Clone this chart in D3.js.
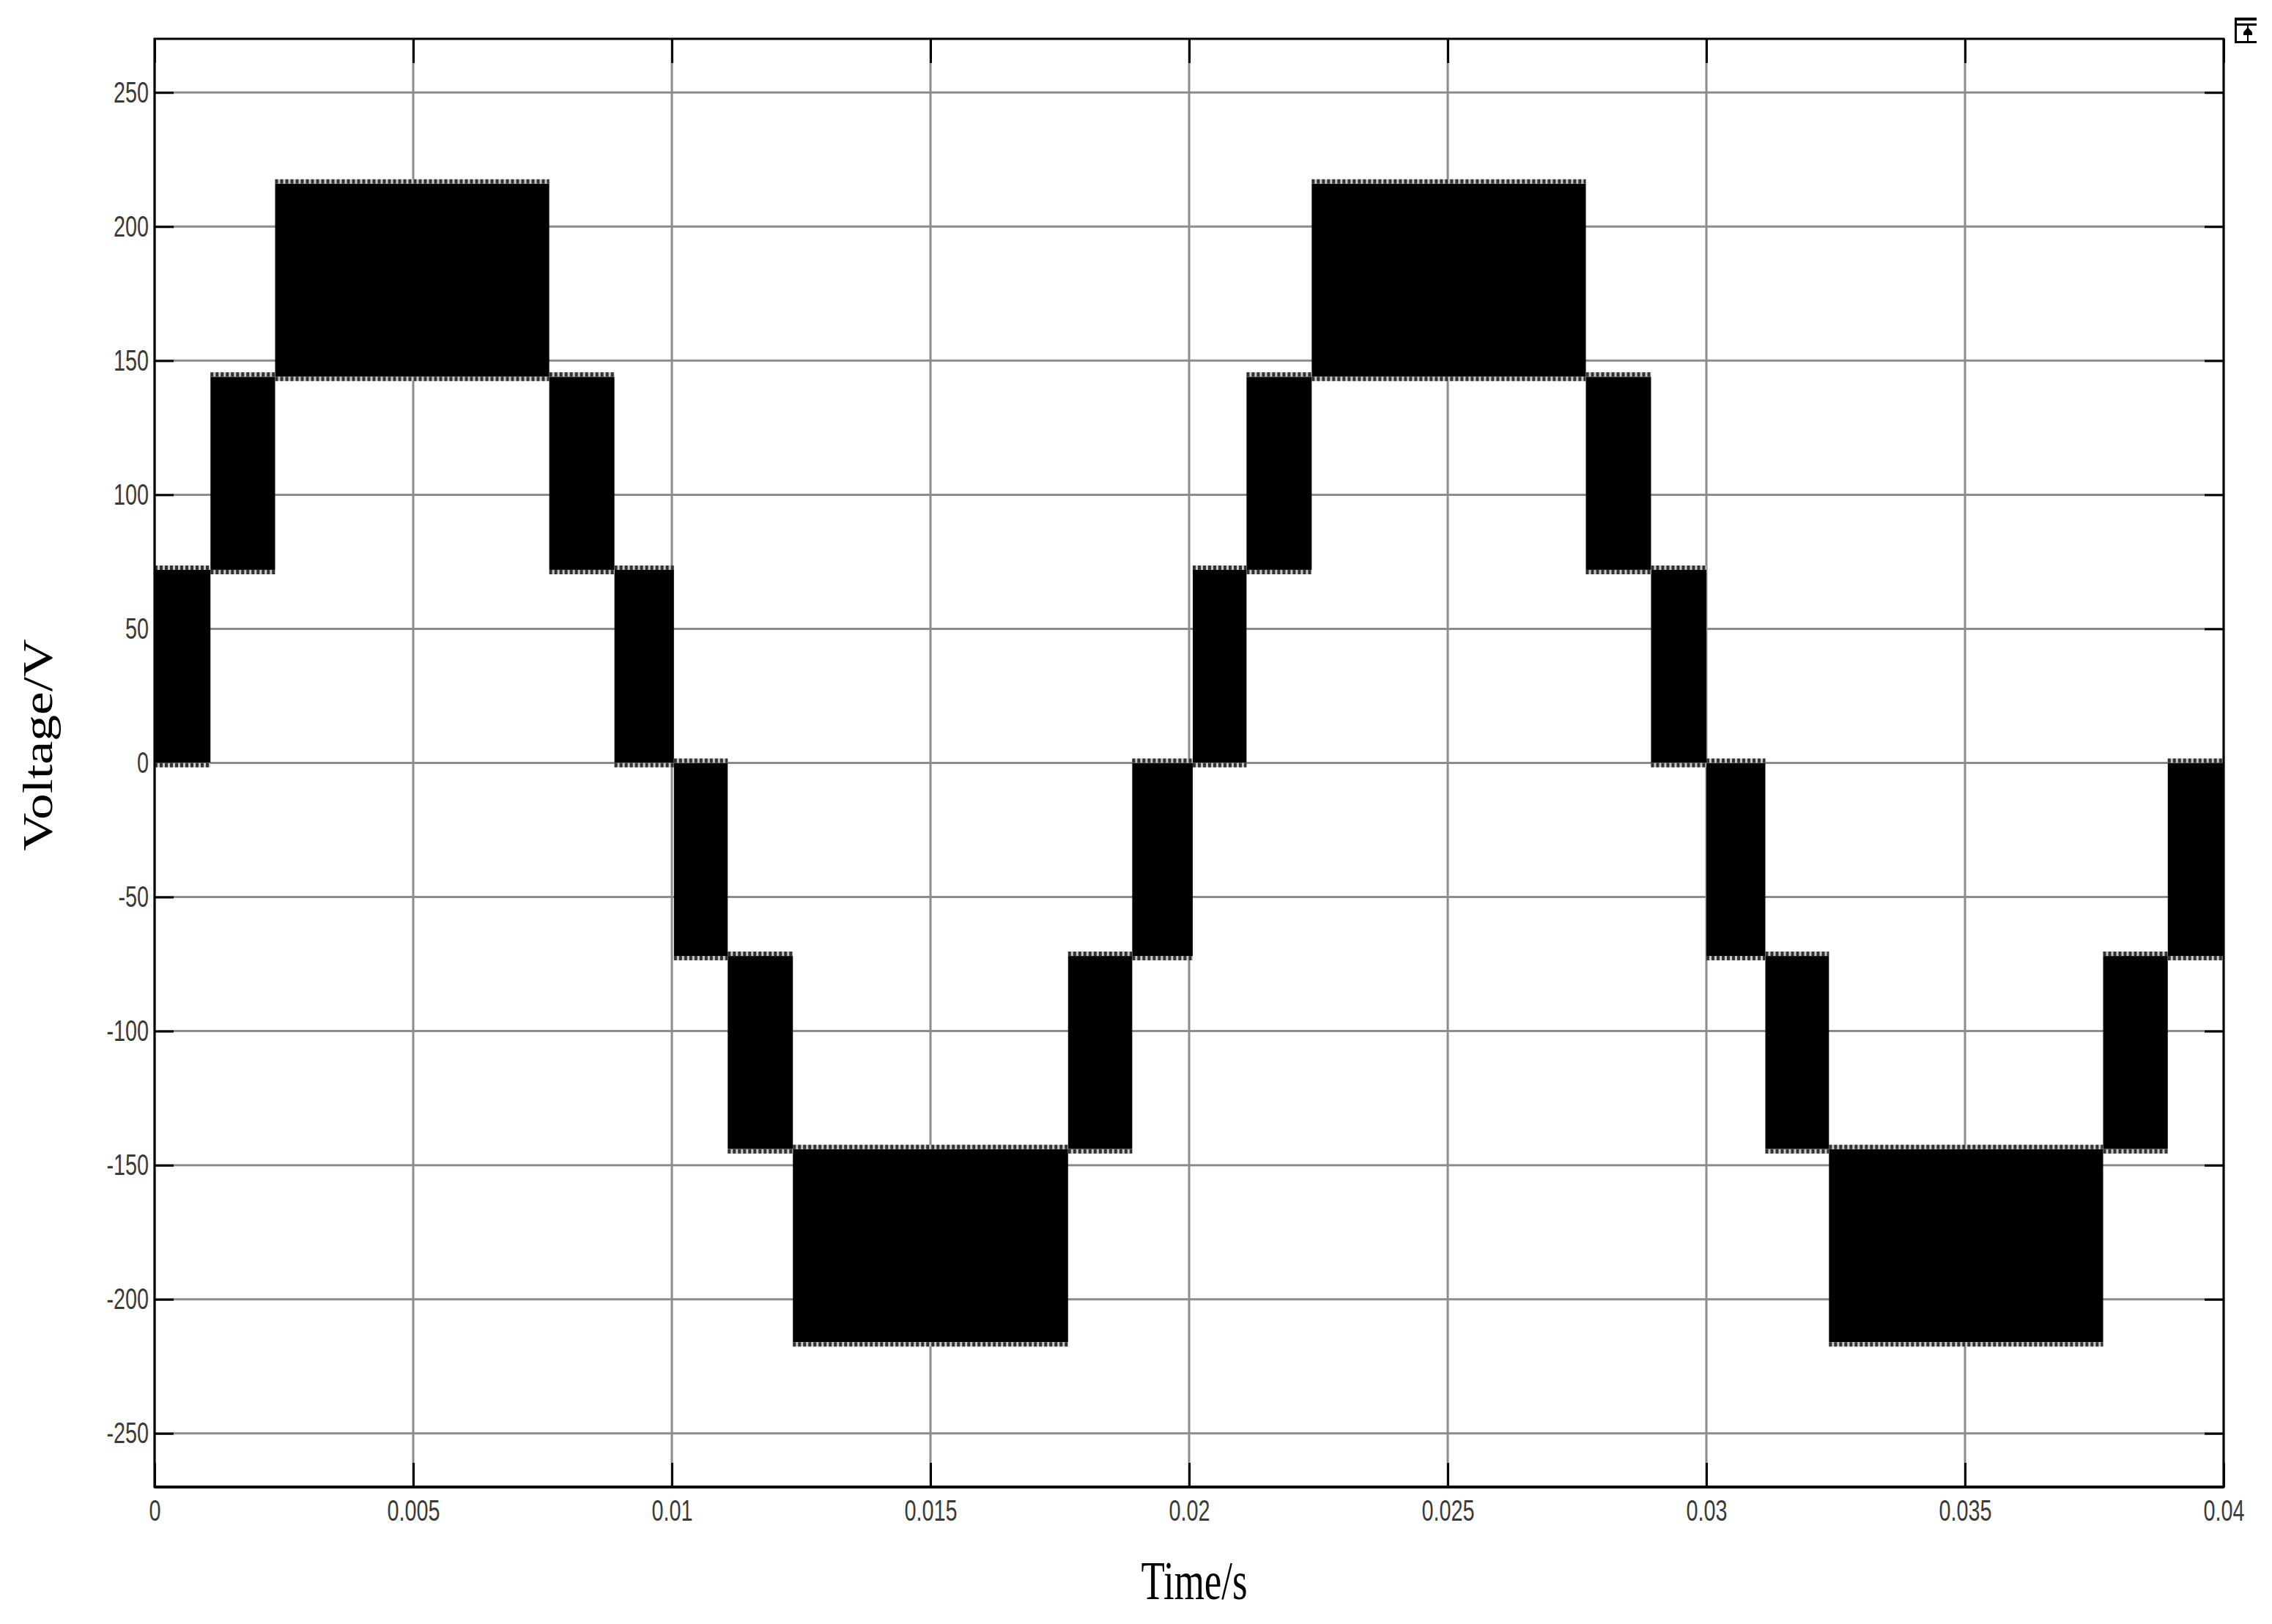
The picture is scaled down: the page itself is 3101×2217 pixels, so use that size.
<!DOCTYPE html>
<html>
<head>
<meta charset="utf-8">
<script src="https://cdn.jsdelivr.net/npm/d3@7"></script>
<style>
  html, body { margin: 0; padding: 0; background: #fff; }
  svg { display: block; }
  .tick text { font-family: "Liberation Sans", Arial, sans-serif; font-size: 40px; fill: #3a3a3a; }
  .label { font-family: "Liberation Serif", "Times New Roman", serif; fill: #000; }
</style>
</head>
<body>
<svg></svg>
<script>
// values
var xTicks = [0, 0.005, 0.01, 0.015, 0.02, 0.025, 0.03, 0.035, 0.04];
var yTicks = [-250, -200, -150, -100, -50, 0, 50, 100, 150, 200, 250];
var bandStart = [0, 0.00108, 0.00233, 0.00763, 0.00889, 0.01004, 0.01108, 0.01234, 0.01766, 0.0189,
                 0.02007, 0.02111, 0.02237, 0.02767, 0.02893, 0.03, 0.03114, 0.03237, 0.03767, 0.03892];
var bandEnd   = [0.00108, 0.00233, 0.00763, 0.00889, 0.01004, 0.01108, 0.01234, 0.01766, 0.0189, 0.02007,
                 0.02111, 0.02237, 0.02767, 0.02893, 0.03, 0.03114, 0.03237, 0.03767, 0.03892, 0.04];
var bandLow   = [0, 72, 144, 72, 0, -72, -144, -216, -144, -72,
                 0, 72, 144, 72, 0, -72, -144, -216, -144, -72];
var bandHigh  = [72, 144, 216, 144, 72, 0, -72, -144, -72, 0,
                 72, 144, 216, 144, 72, 0, -72, -144, -72, 0];

//begin: layout conf.
var svgWidth = 3101,
    svgHeight = 2217,
    plotLeft = 211,
    plotRight = 3035,
    plotTop = 53,
    plotBottom = 2030,
    fringe = 6,
    labelSqueeze = 0.72;
//end: layout conf.

var x = d3.scaleLinear().domain([0, 0.04]).range([plotLeft, plotRight]);
var y = d3.scaleLinear().domain([-270, 270]).range([plotBottom, plotTop]);

var svg = d3.select("svg")
    .attr("width", svgWidth)
    .attr("height", svgHeight);

svg.append("rect")
    .attr("width", svgWidth)
    .attr("height", svgHeight)
    .attr("fill", "#fff");

// grid under the trace
var grid = svg.append("g").attr("stroke", "#8c8c8c").attr("stroke-width", 3);
grid.selectAll(".gx").data(xTicks).enter().append("line")
    .attr("x1", x).attr("x2", x)
    .attr("y1", plotTop).attr("y2", plotBottom);
grid.selectAll(".gy").data(yTicks).enter().append("line")
    .attr("y1", y).attr("y2", y)
    .attr("x1", plotLeft).attr("x2", plotRight);

// inward ticks on all four sides
function styleAxis(g) {
  g.select(".domain").remove();
  g.selectAll(".tick line").attr("stroke", "#000").attr("stroke-width", 3);
  g.selectAll(".tick text").attr("transform", "scale(" + labelSqueeze + ",1)");
}

svg.append("g")
    .attr("transform", "translate(" + [0, plotBottom] + ")")
    .call(d3.axisBottom(x).tickValues(xTicks).tickSize(-33).tickPadding(18).tickFormat(String))
    .call(styleAxis);
svg.append("g")
    .attr("transform", "translate(" + [0, plotTop] + ")")
    .call(d3.axisTop(x).tickValues(xTicks).tickSize(-33).tickFormat(""))
    .call(styleAxis);
svg.append("g")
    .attr("transform", "translate(" + [plotLeft, 0] + ")")
    .call(d3.axisLeft(y).tickValues(yTicks).tickSize(-26).tickPadding(11).tickFormat(String))
    .call(styleAxis);
svg.append("g")
    .attr("transform", "translate(" + [plotRight, 0] + ")")
    .call(d3.axisRight(y).tickValues(yTicks).tickSize(-26).tickFormat(""))
    .call(styleAxis);

// PWM bands
var bands = d3.range(bandStart.length);
var trace = svg.append("g");

trace.selectAll(".band").data(bands).enter().append("rect")
    .attr("x", function(i){ return x(bandStart[i]); })
    .attr("width", function(i){ return x(bandEnd[i]) - x(bandStart[i]); })
    .attr("y", function(i){ return y(bandHigh[i]); })
    .attr("height", function(i){ return y(bandLow[i]) - y(bandHigh[i]); })
    .attr("fill", "#000");

// switching teeth along top and bottom of each band
function drawEdge(levels, offset, colour, dash) {
  trace.append("g").selectAll("line").data(bands).enter().append("line")
      .attr("x1", function(i){ return x(bandStart[i]); })
      .attr("x2", function(i){ return x(bandEnd[i]); })
      .attr("y1", function(i){ return y(levels[i]) + offset; })
      .attr("y2", function(i){ return y(levels[i]) + offset; })
      .attr("stroke", colour)
      .attr("stroke-width", fringe)
      .attr("stroke-dasharray", dash);
}
drawEdge(bandHigh, -fringe/2, "#c8c8c8", null);
drawEdge(bandLow, fringe/2, "#c8c8c8", null);
drawEdge(bandHigh, -fringe/2, "#333", "4 3");
drawEdge(bandLow, fringe/2, "#333", "4 3");

// plot frame
svg.append("rect")
    .attr("x", plotLeft)
    .attr("y", plotTop)
    .attr("width", plotRight - plotLeft)
    .attr("height", plotBottom - plotTop)
    .attr("fill", "none")
    .attr("stroke", "#000")
    .attr("stroke-width", 3);
svg.append("line")
    .attr("x1", plotLeft).attr("x2", plotRight)
    .attr("y1", plotBottom).attr("y2", plotBottom)
    .attr("stroke", "#000")
    .attr("stroke-width", 4);

// axis titles
svg.append("text")
    .attr("class", "label")
    .attr("x", 1630)
    .attr("y", 2183)
    .attr("text-anchor", "middle")
    .attr("font-size", 73)
    .attr("textLength", 145)
    .attr("lengthAdjust", "spacingAndGlyphs")
    .text("Time/s");
svg.append("text")
    .attr("class", "label")
    .attr("transform", "translate(" + [71, 1017] + ") rotate(-90)")
    .attr("text-anchor", "middle")
    .attr("font-size", 57)
    .attr("textLength", 289)
    .attr("lengthAdjust", "spacingAndGlyphs")
    .text("Voltage/V");

// little scope toolbar icon, top right corner
var icon = svg.append("g").attr("transform", "translate(3050,24)");
icon.append("path")
    .attr("d", "M0,0H30V4H3V8H30V11H3V32H30V35H0Z")
    .attr("fill", "#000");
icon.append("path")
    .attr("d", "M17,11H19V32H17ZM18,13L24,20V24H12V20Z")
    .attr("fill", "#000");
</script>
</body>
</html>
